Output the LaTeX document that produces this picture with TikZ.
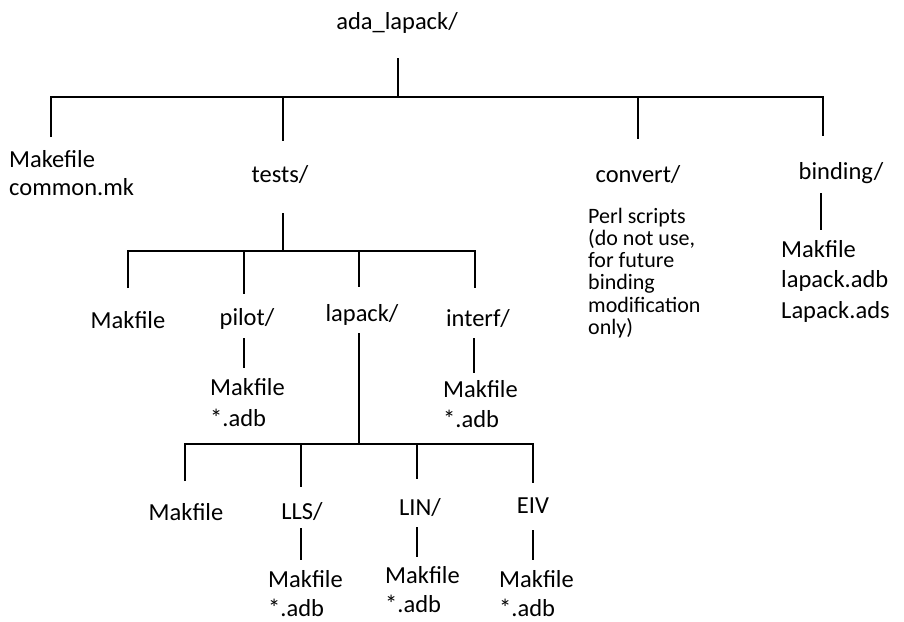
\documentclass[tikz,border=0pt]{standalone}
\usepackage{fontspec}
\setmainfont{Carlito}
\begin{document}
\begin{tikzpicture}[x=1pt,y=-1pt,
  lbl/.style={inner sep=0pt, anchor=base, font=\fontsize{24.5}{30}\selectfont},
  % multi-line lists: the base anchor sits on the last line
  lst/.style={inner sep=0pt, anchor=base west, align=left, font=\fontsize{24.5}{30}\selectfont},
  note/.style={inner sep=0pt, anchor=base west, align=left, font=\fontsize{22}{22.3}\selectfont},
  wire/.style={line width=1.6pt, line cap=butt}]
\useasboundingbox (0,0) rectangle (904,621);

% ---- top level ----
\node[lbl] (root) at (397,29) {ada\_lapack/};
\node[lst, font=\fontsize{24.5}{28}\selectfont] (topfiles) at (9,195) {Makefile\\common.mk};
\node[lbl] (tests) at (280,182) {tests/};
\node[lbl] (convert) at (638,182) {convert/};
\node[lbl] (binding) at (841,179) {binding/};
\node[note] (perl) at (588,334.5) {Perl scripts\\(do not use,\\for future\\binding\\modification\\only)};
\node[lst, font=\fontsize{24.5}{30.5}\selectfont] (bindfiles) at (781,318) {Makfile\\lapack.adb\\Lapack.ads};

\coordinate (r0) at (398,58);
\coordinate (r1) at (398,97);
\coordinate (rL) at (51,97);
\coordinate (rR) at (823,97);
\coordinate (tf0) at (51,137);
\coordinate (te0) at (283,97);
\coordinate (te1) at (283,141);
\coordinate (co0) at (638,97);
\coordinate (co1) at (638,139);
\coordinate (bi1) at (823,136);
\coordinate (bc0) at (821,193);
\coordinate (bc1) at (821,230);
\draw[wire] (r0) -- (r1);
\draw[wire] (tf0) -- (rL) -- (rR) -- (bi1);
\draw[wire] (te0) -- (te1);
\draw[wire] (co0) -- (co1);
\draw[wire] (bc0) -- (bc1);

% ---- tests/ ----
\node[lbl] (tmak) at (128,328) {Makfile};
\node[lbl] (pilot) at (247,325) {pilot/};
\node[lbl] (lapack) at (362,321) {lapack/};
\node[lbl] (interf) at (478,326) {interf/};
\node[lst, font=\fontsize{24.5}{31}\selectfont] (pilotfiles) at (210,426) {Makfile\\*.adb};
\node[lst, font=\fontsize{24.5}{30}\selectfont] (interffiles) at (443,427) {Makfile\\*.adb};

\coordinate (t0) at (283,213);
\coordinate (t1) at (283,251);
\coordinate (tL) at (128,251);
\coordinate (tR) at (475,251);
\coordinate (tm1) at (128,288);
\coordinate (pi0) at (244,251);
\coordinate (pi1) at (244,294);
\coordinate (la0) at (359,251);
\coordinate (la1) at (359,287);
\coordinate (in1) at (475,288);
\coordinate (pc0) at (244,338);
\coordinate (pc1) at (244,368);
\coordinate (ic0) at (474,338);
\coordinate (ic1) at (474,373);
\draw[wire] (t0) -- (t1);
\draw[wire] (tm1) -- (tL) -- (tR) -- (in1);
\draw[wire] (pi0) -- (pi1);
\draw[wire] (la0) -- (la1);
\draw[wire] (pc0) -- (pc1);
\draw[wire] (ic0) -- (ic1);

% ---- tests/lapack/ ----
\node[lbl] (lmak) at (186,520) {Makfile};
\node[lbl] (lls) at (302,519) {LLS/};
\node[lbl] (lin) at (420,515) {LIN/};
\node[lbl] (eiv) at (533,513) {EIV};
\node[lst, font=\fontsize{24.5}{29}\selectfont] (llsfiles) at (268,616) {Makfile\\*.adb};
\node[lst, font=\fontsize{24.5}{29}\selectfont] (linfiles) at (385,612) {Makfile\\*.adb};
\node[lst, font=\fontsize{24.5}{29}\selectfont] (eivfiles) at (499,616) {Makfile\\*.adb};

\coordinate (l0) at (359,333);
\coordinate (l1) at (359,444);
\coordinate (lL) at (185,444);
\coordinate (lR) at (533,444);
\coordinate (lm1) at (185,481);
\coordinate (ll0) at (301,444);
\coordinate (ll1) at (301,487);
\coordinate (li0) at (417,444);
\coordinate (li1) at (417,479);
\coordinate (ei1) at (533,483);
\coordinate (llc0) at (301,528);
\coordinate (llc1) at (301,560);
\coordinate (lic0) at (417,527);
\coordinate (lic1) at (417,557);
\coordinate (eic0) at (533,530);
\coordinate (eic1) at (533,560);
\draw[wire] (l0) -- (l1);
\draw[wire] (lm1) -- (lL) -- (lR) -- (ei1);
\draw[wire] (ll0) -- (ll1);
\draw[wire] (li0) -- (li1);
\draw[wire] (llc0) -- (llc1);
\draw[wire] (lic0) -- (lic1);
\draw[wire] (eic0) -- (eic1);
\end{tikzpicture}
\end{document}
